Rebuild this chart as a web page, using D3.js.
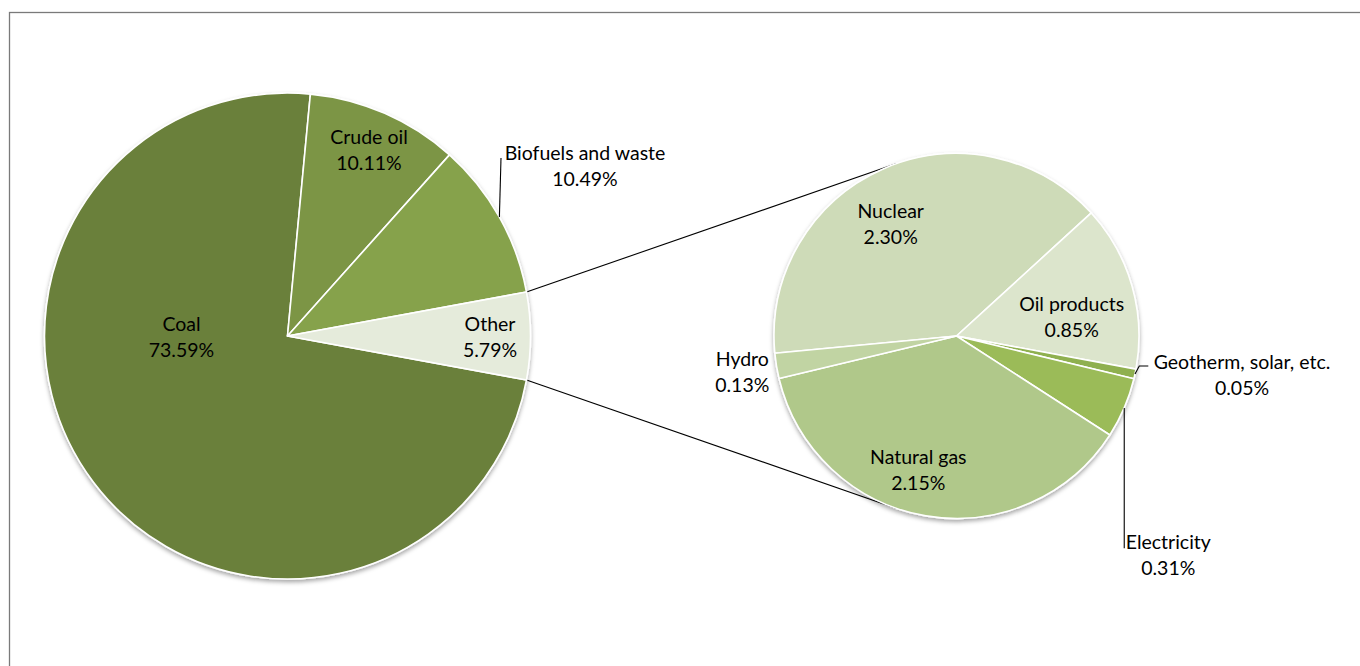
<!DOCTYPE html>
<html>
<head>
<meta charset="utf-8">
<script src="https://cdn.jsdelivr.net/npm/d3@7"></script>
<style>
  html, body { margin: 0; padding: 0; background: #ffffff; }
  svg { display: block; }
  text { font-family: Lato, "Open Sans", sans-serif; font-size: 19.5px; fill: #000; }
</style>
</head>
<body>
<svg id="chart" width="1360" height="666"></svg>
<script>
// ---------- data ----------
const mainCategories = ["Coal", "Crude oil", "Biofuels and waste", "Other"];
const mainValues = [73.59, 10.11, 10.49, 5.79];
const subCategories = ["Nuclear", "Oil products", "Geotherm, solar, etc.", "Electricity", "Natural gas", "Hydro"];
const subValues = [2.30, 0.85, 0.05, 0.31, 2.15, 0.13];

// ---------- styles ----------
const mainColors = ["#6b803a", "#7b9545", "#86a24c", "#e5ebdb"];
const subColors = ["#cedbb8", "#dce5cc", "#8fb04f", "#9bbb59", "#b0c88a", "#c1d4a3"];

// ---------- layout ----------
const W = 1360, H = 666;
const mainC = { x: 287.5, y: 336, r: 243 };
const subC = { x: 956.5, y: 336, r: 182.5 };
const subStartDeg = -95.4;
const lineGap = 26;
const baseShift = 7;

// label anchors (block centre x, first-line centre y), relative to pie centre
const mainLabelPos = [
  { dx: -106, dy: -12 },
  { dx: 81.5, dy: -199 },
  { dx: 297.5, dy: -183, leader: { ex: 501, ey: 158 } },
  { dx: 202.5, dy: -12 }
];
const subLabelPos = [
  { dx: -65.8, dy: -125.3 },
  { dx: 115.2, dy: -31.7 },
  { dx: 285.5, dy: 25.7, leader: { bx: 1139.3, by: 366, ex: 1148.3, ey: 366 } },
  { dx: 211.8, dy: 206.3, leader: { ex: null, ey: 548.3 } },
  { dx: -38.2, dy: 120.7 },
  { dx: -214.2, dy: 23 }
];

const fmt = v => d3.format(".2f")(v) + "%";
const svg = d3.select("#chart");

// shadow filter
const defs = svg.append("defs");
const f = defs.append("filter").attr("id", "shadow")
  .attr("x", "-10%").attr("y", "-10%").attr("width", "120%").attr("height", "125%");
f.append("feDropShadow").attr("dx", 0).attr("dy", 2.5).attr("stdDeviation", 2.2)
  .attr("flood-color", "#000").attr("flood-opacity", 0.35);

// frame
svg.append("rect").attr("x", 9.5).attr("y", 12.5).attr("width", W).attr("height", H)
  .attr("fill", "none").attr("stroke", "#7a7a7a").attr("stroke-width", 1.3);

// ---------- main pie ----------
const total = d3.sum(mainValues);
const otherIdx = mainCategories.length - 1;
const beforeOther = d3.sum(mainValues.slice(0, otherIdx));
const mainStart = Math.PI / 2 - 2 * Math.PI * (beforeOther + mainValues[otherIdx] / 2) / total;

const mainPie = d3.pie().sort(null).value(d => d)
  .startAngle(mainStart).endAngle(mainStart + 2 * Math.PI);
const mainArcs = mainPie(mainValues);
const mainArc = d3.arc().innerRadius(0).outerRadius(mainC.r);

const subPie = d3.pie().sort(null).value(d => d)
  .startAngle(subStartDeg * Math.PI / 180).endAngle(subStartDeg * Math.PI / 180 + 2 * Math.PI);
const subArcs = subPie(subValues);
const subArc = d3.arc().innerRadius(0).outerRadius(subC.r);

const pt = (c, r, a) => ({ x: c.x + r * Math.sin(a), y: c.y - r * Math.cos(a) });

// connector lines (tangent to secondary pie)
const oa = mainArcs[otherIdx];
const pTop = pt(mainC, mainC.r, oa.startAngle);
const pBot = pt(mainC, mainC.r, oa.endAngle);
function tangents(P) {
  const vx = P.x - subC.x, vy = P.y - subC.y;
  const d = Math.hypot(vx, vy);
  const th = Math.atan2(vy, vx), al = Math.acos(subC.r / d);
  return [th + al, th - al].map(a => ({ x: subC.x + subC.r * Math.cos(a), y: subC.y + subC.r * Math.sin(a) }));
}
const tTop = tangents(pTop).sort((a, b) => a.y - b.y)[0];
const tBot = tangents(pBot).sort((a, b) => b.y - a.y)[0];
svg.append("g").selectAll("line").data([[pTop, tTop], [pBot, tBot]]).join("line")
  .attr("x1", d => d[0].x).attr("y1", d => d[0].y)
  .attr("x2", d => d[1].x).attr("y2", d => d[1].y)
  .attr("stroke", "#000").attr("stroke-width", 1.1);

const gMain = svg.append("g").attr("transform", `translate(${mainC.x},${mainC.y})`)
  .attr("filter", "url(#shadow)");
gMain.selectAll("path").data(mainArcs).join("path")
  .attr("d", mainArc).attr("fill", (d, i) => mainColors[i])
  .attr("stroke", "#fff").attr("stroke-width", 1.6).attr("stroke-linejoin", "round");

const gSub = svg.append("g").attr("transform", `translate(${subC.x},${subC.y})`)
  .attr("filter", "url(#shadow)");
gSub.selectAll("path").data(subArcs).join("path")
  .attr("d", subArc).attr("fill", (d, i) => subColors[i])
  .attr("stroke", "#fff").attr("stroke-width", 1.6).attr("stroke-linejoin", "round");

// ---------- labels ----------
function drawLabels(arcs, cats, vals, pos, c) {
  const g = svg.append("g");
  arcs.forEach((a, i) => {
    const p = pos[i];
    const cx = c.x + p.dx, cy = c.y + p.dy;
    const t = g.append("text").attr("text-anchor", "middle");
    t.append("tspan").attr("x", cx).attr("y", cy + baseShift).text(cats[i]);
    t.append("tspan").attr("x", cx).attr("y", cy + lineGap + baseShift).text(fmt(vals[i]));
    if (p.leader) {
      const mid = (a.startAngle + a.endAngle) / 2;
      const s = pt(c, c.r, mid);
      const L = p.leader;
      const pts = [[s.x, s.y]];
      if (L.bx != null) pts.push([L.bx, L.by]);
      pts.push([L.ex == null ? s.x : L.ex, L.ey]);
      g.append("path").attr("d", d3.line()(pts))
        .attr("fill", "none").attr("stroke", "#000").attr("stroke-width", 1.1);
    }
  });
}
drawLabels(mainArcs, mainCategories, mainValues, mainLabelPos, mainC);
drawLabels(subArcs, subCategories, subValues, subLabelPos, subC);
</script>
</body>
</html>
